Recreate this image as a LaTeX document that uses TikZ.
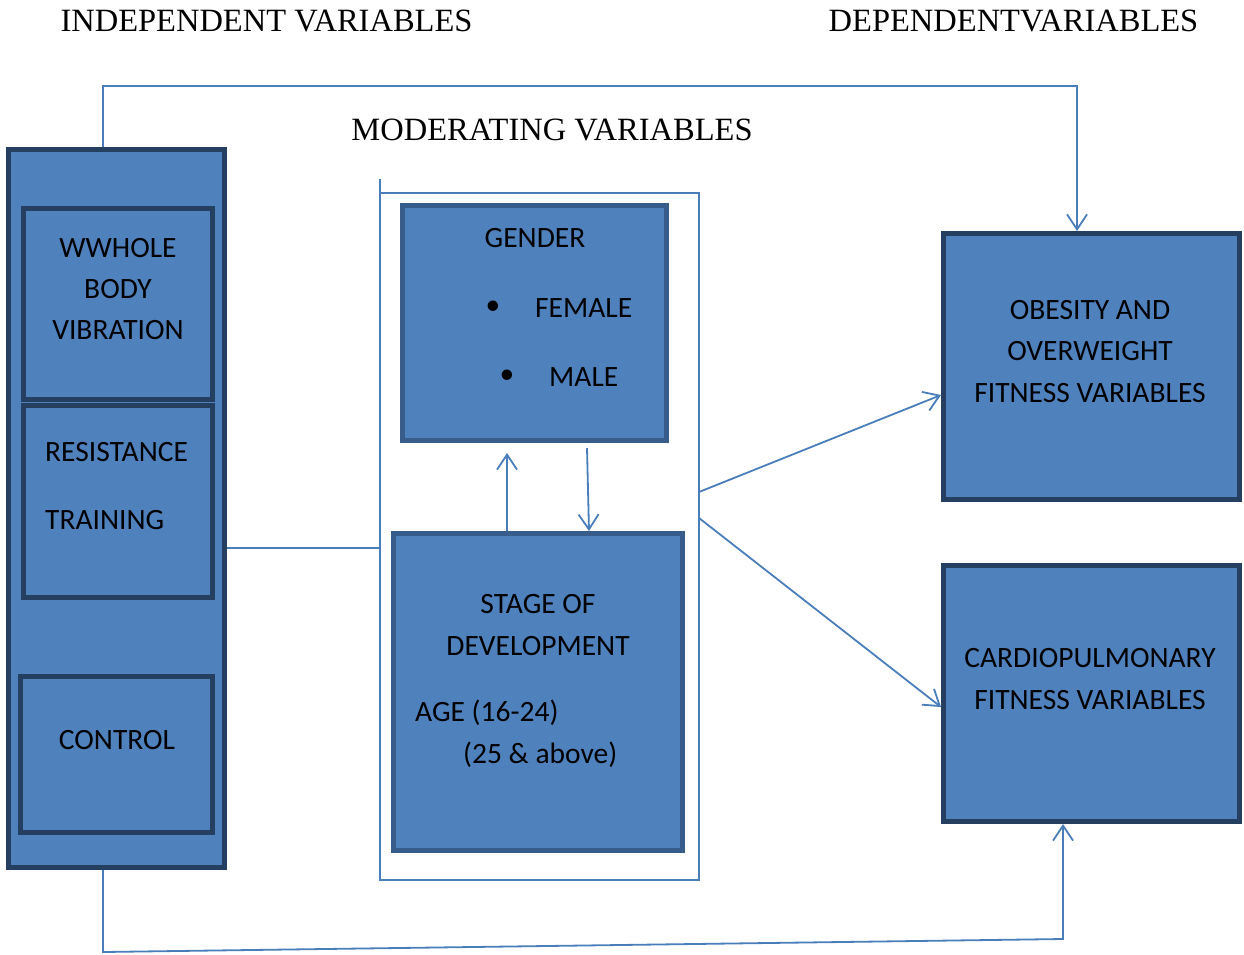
\documentclass[tikz,border=0pt]{standalone}
\usepackage{fontspec}
\setmainfont{Liberation Serif}
\newfontfamily\calfont{Carlito}
\usetikzlibrary{arrows.meta}
\definecolor{fillblue}{HTML}{4F81BD}
\definecolor{darkedge}{HTML}{243F60}
\definecolor{midedge}{HTML}{385D8A}
\definecolor{linkblue}{HTML}{4A7EBB}
\begin{document}
\begin{tikzpicture}[x=1pt,y=-1pt,
  box/.style={draw=darkedge, fill=fillblue, line width=5pt, anchor=north west, inner sep=0pt},
  mbox/.style={box, draw=midedge},
  txt/.style={font=\calfont\fontsize{29.5}{29.5}\selectfont, inner sep=0pt, text=black},
  title/.style={font=\fontsize{32.5}{32.5}\selectfont, inner sep=0pt, text=black},
  conn/.style={draw=linkblue, line width=1.8pt},
  arr/.style={conn, -{Straight Barb[length=15pt,width=20pt,line width=1.8pt]}}
]
\useasboundingbox (0,0) rectangle (1244,954);

% titles
\node[title] (tind) at (266.5,21) {INDEPENDENT VARIABLES};
\node[title] (tdep) at (1013.5,21) {DEPENDENTVARIABLES};
\node[title] (tmod) at (552,130) {MODERATING VARIABLES};

% independent boxes
\node[box, minimum width=216pt, minimum height=718pt] (indep) at (6,147) {};
\node[box, minimum width=189pt, minimum height=191pt] (whole) at (21,206) {};
\node[box, minimum width=189pt, minimum height=192pt] (resist) at (21,403) {};
\node[box, minimum width=192pt, minimum height=156pt] (control) at (18,674) {};

\node[txt] (w1) at (118,248) {WWHOLE};
\node[txt] (w2) at (118,289) {BODY};
\node[txt] (w3) at (118,330) {VIBRATION};
\node[txt, anchor=west] (r1) at (45,452) {RESISTANCE};
\node[txt, anchor=west] (r2) at (45,520) {TRAINING};
\node[txt] (c1) at (117,740) {CONTROL};

% moderating container
\node[draw=linkblue, line width=1.5pt, anchor=north west, minimum width=319pt, minimum height=687pt, inner sep=0pt, outer sep=0pt] (cont) at (380,193) {};
\draw[draw=linkblue, line width=1.5pt] (cont.north west) -- ++(0,-14);

\node[mbox, minimum width=264pt, minimum height=235pt] (gender) at (400,203) {};
\node[mbox, minimum width=289pt, minimum height=317pt] (stage) at (391,531) {};

\node[txt] (g1) at (535,238) {GENDER};
\node[txt] (b1) at (493,308) {•};
\node[txt, anchor=west] (g2) at (535,308) {FEMALE};
\node[txt] (b2) at (507,377) {•};
\node[txt, anchor=west] (g3) at (549,377) {MALE};

\node[txt] (s1) at (538,604) {STAGE OF};
\node[txt] (s2) at (538,646) {DEVELOPMENT};
\node[txt, anchor=west] (s3) at (415,713) {AGE (16-24)};
\node[txt, anchor=west] (s4) at (463,755) {(25 \& above)};

% dependent boxes
\node[box, minimum width=296pt, minimum height=266pt] (obes) at (941,231) {};
\node[box, minimum width=296pt, minimum height=256pt] (cardio) at (941,563) {};
\node[txt] (o1) at (1090,310) {OBESITY AND};
\node[txt] (o2) at (1090,351) {OVERWEIGHT};
\node[txt] (o3) at (1090,393) {FITNESS VARIABLES};
\node[txt] (k1) at (1090,658) {CARDIOPULMONARY};
\node[txt] (k2) at (1090,700) {FITNESS VARIABLES};

% connectors
\coordinate (top) at (103,86);
\coordinate (topr) at (1077,86);
\draw[arr] (indep.north -| top) -- (top) -- (topr) -- (obes.north -| topr);

\coordinate (bl) at (103,952);
\coordinate (br) at (1063,939);
\draw[arr] (indep.south -| bl) -- (bl) -- (br) -- (cardio.south -| br);

\coordinate (mid) at (0,548);
\draw[conn] (indep.east |- mid) -- (cont.west |- mid);

\coordinate (upx) at (507,453);
\draw[arr] (stage.north -| upx) -- (upx);
\coordinate (dn1) at (587,448);
\coordinate (dn2) at (589,0);
\draw[arr] (dn1) -- (stage.north -| dn2);

\coordinate (d1) at (0,492);
\coordinate (d1e) at (0,395);
\coordinate (d2) at (0,518);
\coordinate (d2e) at (0,707);
\draw[arr] (cont.east |- d1) -- (obes.west |- d1e);
\draw[arr] (cont.east |- d2) -- (cardio.west |- d2e);
\end{tikzpicture}
\end{document}
